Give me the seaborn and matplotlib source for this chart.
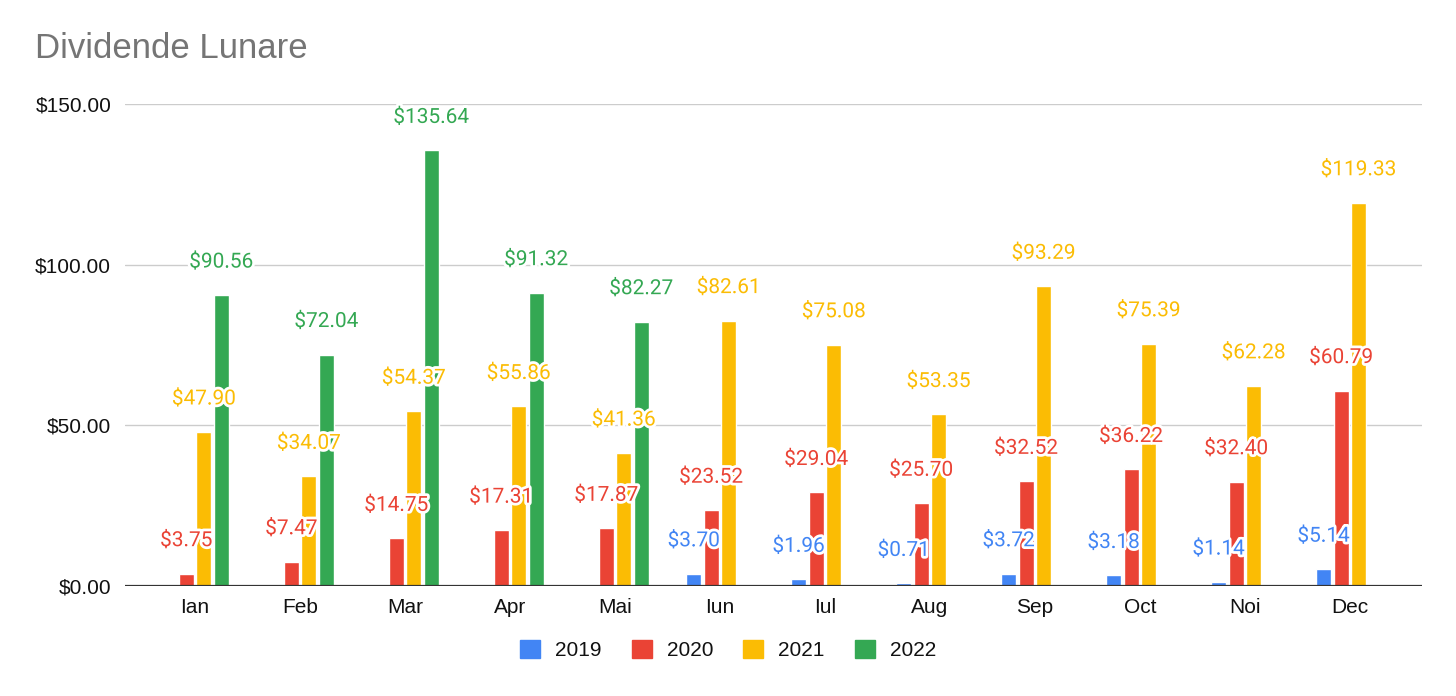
import numpy as np
import pandas as pd
import matplotlib
matplotlib.use("Agg")
import matplotlib.pyplot as plt
import matplotlib.patheffects as pe
from matplotlib.patches import Patch
import seaborn as sns

months = ["Ian", "Feb", "Mar", "Apr", "Mai", "Iun", "Iul", "Aug", "Sep", "Oct", "Noi", "Dec"]
years = ["2019", "2020", "2021", "2022"]
v2019 = [np.nan, np.nan, np.nan, np.nan, np.nan, 3.70, 1.96, 0.71, 3.72, 3.18, 1.14, 5.14]
v2020 = [3.75, 7.47, 14.75, 17.31, 17.87, 23.52, 29.04, 25.70, 32.52, 36.22, 32.40, 60.79]
v2021 = [47.90, 34.07, 54.37, 55.86, 41.36, 82.61, 75.08, 53.35, 93.29, 75.39, 62.28, 119.33]
v2022 = [90.56, 72.04, 135.64, 91.32, 82.27, np.nan, np.nan, np.nan, np.nan, np.nan, np.nan, np.nan]
colors = ["#4285F4", "#EA4335", "#FBBC04", "#34A853"]

rows = []
for y, vals in zip(years, [v2019, v2020, v2021, v2022]):
    for m, v in zip(months, vals):
        rows.append({"month": m, "year": y, "value": v})
df = pd.DataFrame(rows)

sns.set_theme(style="white")
plt.rcParams["font.family"] = ["Liberation Sans", "DejaVu Sans"]

fig = plt.figure(figsize=(14.56, 6.96), dpi=100)
ax = fig.add_axes([0.0859, 0.1585, 0.8907, 0.6916])

sns.barplot(data=df, x="month", y="value", hue="year", order=months, hue_order=years,
            palette=colors, width=0.667, gap=0.16, errorbar=None, legend=False, ax=ax,
            saturation=1, zorder=3)

for cont, col in zip(ax.containers, colors):
    for bar in cont:
        h = bar.get_height()
        if np.isnan(h):
            continue
        ax.annotate(f"${h:.2f}", (bar.get_x() + bar.get_width() / 2, h),
                    xytext=(0, 33), textcoords="offset pixels", ha="center", va="center",
                    color=col, fontsize=15, family=["Roboto", "DejaVu Sans"], zorder=5,
                    path_effects=[pe.withStroke(linewidth=4, foreground="white")])

ax.set_ylim(0, 150)
ax.set_xlim(-0.667, 11.686)
ax.set_yticks([0, 50, 100, 150])
ax.set_yticklabels(["$0.00", "$50.00", "$100.00", "$150.00"])
ax.yaxis.grid(True, color="#cccccc", linewidth=1, zorder=0)
ax.set_axisbelow(True)
ax.axhline(0, color="#333333", linewidth=1.6, zorder=4)
for s in ["left", "right", "top", "bottom"]:
    ax.spines[s].set_visible(False)
ax.tick_params(axis="y", length=0, pad=10, labelsize=15, labelcolor="#111111")
ax.tick_params(axis="x", length=0, pad=9, labelsize=15, labelcolor="#111111")
ax.set_xlabel("")
ax.set_ylabel("")

fig.text(35 / 1456, 1 - 48 / 696, "Dividende Lunare", fontsize=25, color="#757575",
         ha="left", va="center")

handles = [Patch(facecolor=c, edgecolor=c, label=y) for c, y in zip(colors, years)]
fig.legend(handles=handles, loc="center", bbox_to_anchor=(0.5, 1 - 650 / 696), ncol=4,
           frameon=False, fontsize=15, handlelength=0.96, handleheight=0.96,
           handletextpad=0.72, columnspacing=1.44, labelcolor="#111111")

fig.savefig("out.png", dpi=100)
